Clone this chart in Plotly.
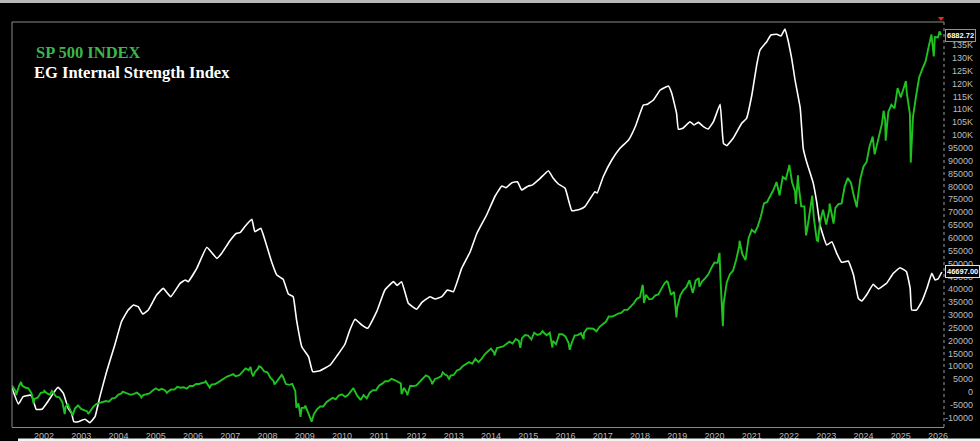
import pandas as pd
import plotly.graph_objects as go

# ---------------- data ----------------
# EG Internal Strength Index (decimal year, value)
eg_year = [
    2001.14, 2001.31, 2001.44, 2001.62, 2001.67, 2001.79, 2001.94, 2002.07, 2002.16, 2002.30,
    2002.38, 2002.52, 2002.65, 2002.74, 2002.80, 2002.92, 2003.10, 2003.23, 2003.37, 2003.50,
    2003.68, 2003.90, 2004.08, 2004.26, 2004.40, 2004.53, 2004.65, 2004.80, 2005.02, 2005.20,
    2005.40, 2005.65, 2005.79, 2005.87, 2006.10, 2006.37, 2006.64, 2006.77, 2006.99, 2007.17,
    2007.26, 2007.40, 2007.58, 2007.66, 2007.82, 2007.93, 2008.11, 2008.25, 2008.42, 2008.56,
    2008.69, 2008.78, 2008.92, 2009.10, 2009.21, 2009.41, 2009.68, 2009.86, 2010.08, 2010.21,
    2010.35, 2010.53, 2010.69, 2010.93, 2011.15, 2011.38, 2011.48, 2011.60, 2011.78, 2012.00,
    2012.14, 2012.36, 2012.50, 2012.68, 2012.83, 2012.99, 2013.21, 2013.44, 2013.62, 2013.88,
    2014.11, 2014.29, 2014.40, 2014.56, 2014.71, 2014.82, 2015.00, 2015.10, 2015.32, 2015.54,
    2015.67, 2015.81, 2015.99, 2016.17, 2016.39, 2016.52, 2016.79, 2016.85, 2017.01, 2017.24,
    2017.46, 2017.69, 2017.87, 2018.09, 2018.20, 2018.36, 2018.54, 2018.76, 2018.85, 2018.98,
    2019.03, 2019.15, 2019.34, 2019.45, 2019.57, 2019.70, 2019.83, 2019.97, 2020.15, 2020.24,
    2020.33, 2020.50, 2020.73, 2020.86, 2021.00, 2021.13, 2021.22, 2021.40, 2021.51, 2021.67,
    2021.78, 2021.89, 2021.98, 2022.07, 2022.16, 2022.30, 2022.38, 2022.47, 2022.65, 2022.74,
    2022.83, 2023.01, 2023.15, 2023.28, 2023.41, 2023.59, 2023.73, 2023.86, 2023.95, 2024.08,
    2024.26, 2024.40, 2024.53, 2024.62, 2024.80, 2024.98, 2025.15, 2025.25, 2025.29, 2025.42,
    2025.56, 2025.70, 2025.83, 2025.92, 2026.00, 2026.10,
]
eg_value = [
    1556, -4670, -1800, -1200, -1500, -6740, -6740, -4400, -2450, 600,
    1830, -510, -6350, -8290, -11550, -11550, -10630, -11940, -9600, -1800,
    7900, 18290, 27350, 31900, 33850, 33200, 30350, 31900, 37740, 40330,
    37080, 42280, 43580, 42930, 48120, 56300, 52000, 53970, 58870, 61750,
    62000, 64500, 67180, 62380, 63670, 59140, 50700, 45520, 43840, 38130,
    37080, 28020, 17630, 13740, 7900, 8290, 10500, 14010, 18680, 24120,
    28290, 26070, 24790, 31250, 39690, 42930, 41500, 42930, 34510, 32180,
    34770, 37080, 36190, 37080, 39690, 39030, 48120, 54590, 61750, 68870,
    76260, 80150, 79500, 81440, 81830, 78600, 80150, 80500, 83150, 86110,
    83150, 80930, 79260, 70540, 71090, 72100, 77940, 77400, 83770, 90270,
    94820, 98050, 103230, 111680, 112000, 113620, 117510, 119070, 116220, 108440,
    102220, 102600, 105170, 103900, 104920, 103230, 102330, 105170, 111940, 96770,
    95840, 98710, 104550, 106490, 115560, 127230, 133070, 136310, 138910, 139180,
    138500, 141240, 136310, 129840, 121400, 110390, 94820, 89610, 81200, 74050,
    64980, 57200, 58480, 53970, 50470, 50970, 45520, 36460, 35410, 37740,
    41910, 40080, 41370, 42300, 46190, 48370, 46810, 40350, 31900, 31900,
    35140, 40350, 46190, 43580, 44000, 46697,
]

# SP 500 INDEX: monthly closes starting Feb 2001
sp_first_month = "2001-02"
sp_monthly_close = [
    1240, 1160, 1249, 1256, 1224, 1211, 1134, 1041, 1060, 1139, 1148,
    1130, 1107, 1147, 1077, 1067, 990, 912, 916, 815, 886, 936, 880,
    856, 841, 848, 917, 964, 975, 990, 1008, 996, 1051, 1058, 1112,
    1131, 1145, 1126, 1107, 1121, 1141, 1102, 1104, 1115, 1130, 1174, 1212,
    1181, 1204, 1181, 1157, 1192, 1191, 1234, 1220, 1229, 1207, 1249, 1248,
    1280, 1281, 1295, 1311, 1270, 1270, 1277, 1304, 1336, 1378, 1401, 1418,
    1438, 1407, 1421, 1482, 1531, 1503, 1455, 1474, 1527, 1549, 1481, 1468,
    1379, 1331, 1323, 1386, 1400, 1280, 1267, 1283, 1165, 969, 896, 903,
    826, 735, 798, 873, 919, 919, 987, 1021, 1057, 1036, 1096, 1115,
    1074, 1104, 1169, 1187, 1089, 1031, 1102, 1049, 1141, 1183, 1181, 1258,
    1286, 1327, 1326, 1364, 1345, 1321, 1292, 1219, 1131, 1253, 1247, 1258,
    1312, 1366, 1408, 1398, 1310, 1362, 1379, 1407, 1441, 1412, 1416, 1426,
    1498, 1515, 1569, 1598, 1631, 1606, 1686, 1633, 1682, 1757, 1806, 1848,
    1783, 1859, 1872, 1884, 1924, 1960, 1931, 2003, 1972, 2018, 2068, 2059,
    1995, 2104, 2068, 2086, 2107, 2063, 2104, 1972, 1920, 2079, 2080, 2044,
    1940, 1932, 2060, 2065, 2097, 2099, 2174, 2171, 2168, 2126, 2199, 2239,
    2279, 2364, 2363, 2384, 2412, 2423, 2470, 2472, 2519, 2575, 2648, 2674,
    2824, 2714, 2641, 2648, 2705, 2718, 2816, 2902, 2914, 2712, 2760, 2507,
    2704, 2784, 2834, 2946, 2752, 2942, 2980, 2926, 2977, 3038, 3141, 3231,
    3226, 2954, 2585, 2912, 3044, 3100, 3271, 3500, 3363, 3270, 3622, 3756,
    3714, 3811, 3973, 4181, 4204, 4298, 4395, 4523, 4308, 4605, 4567, 4766,
    4516, 4374, 4530, 4132, 4132, 3785, 4130, 3955, 3586, 3872, 4080, 3840,
    4077, 3970, 4109, 4169, 4180, 4450, 4589, 4508, 4288, 4194, 4568, 4770,
    4846, 5096, 5254, 5036, 5278, 5460, 5522, 5648, 5762, 5705, 6032, 5882,
    6041, 5955, 5612, 5569, 5912, 6205, 6339, 6460, 6688, 6840, 6849, 6845,
]
# SP 500 INDEX: intra-month swing points visible in the picture
sp_swing_dates = [
    "2001-02-21", "2001-04-04", "2001-05-21", "2001-09-21", "2002-01-04", "2002-03-19",
    "2002-07-23", "2002-08-22", "2002-10-09", "2002-11-27", "2003-03-11", "2004-02-11",
    "2004-08-12", "2005-04-20", "2006-05-05", "2006-06-13", "2007-02-27", "2007-07-19",
    "2007-08-15", "2007-10-09", "2008-03-10", "2008-05-19", "2008-10-10", "2008-11-20",
    "2009-01-06", "2009-03-09", "2010-04-23", "2010-07-02", "2011-04-29", "2011-08-08",
    "2011-10-03", "2012-04-02", "2012-06-01", "2012-09-14", "2012-11-15", "2014-02-03",
    "2014-10-15", "2015-05-21", "2015-08-25", "2016-02-11", "2016-06-27", "2018-01-26",
    "2018-02-08", "2018-09-20", "2018-12-24", "2019-06-03", "2019-08-05", "2020-02-19",
    "2020-03-23", "2020-09-02", "2022-01-03", "2022-03-08", "2022-03-29", "2022-06-16",
    "2022-08-16", "2022-10-12", "2023-02-02", "2023-03-13", "2023-07-31", "2023-10-27",
    "2024-04-19", "2024-07-16", "2024-08-05", "2025-02-19", "2025-04-08", "2025-10-28",
    "2025-11-20", "2026-01-15", "2026-01-30",
]
sp_swing_values = [
    1255, 1103, 1312, 966, 1173, 1170,
    798, 962, 777, 938, 800, 1157,
    1064, 1138, 1325, 1223, 1399, 1553,
    1406, 1565, 1273, 1427, 899, 752,
    935, 677, 1217, 1022, 1364, 1119,
    1099, 1419, 1278, 1466, 1353, 1741,
    1862, 2131, 1867, 1829, 2001, 2873,
    2581, 2931, 2351, 2744, 2844, 3386,
    2210, 3580, 4797, 4171, 4632, 3667,
    4305, 3577, 4179, 3856, 4589, 4117,
    4967, 5667, 5186, 6144, 4835, 6891,
    6538, 6940, 6882.72,
]

year_ticks = list(range(2002, 2027))
y_tick_values = list(range(-10000, 140001, 5000))
y_tick_labels = [f"{v // 1000}K" if v >= 100000 else str(v) for v in y_tick_values]

sp_last_label = "6882.72"
eg_last_label = "46697.00"

# ---------------- build series ----------------
def decimal_year_to_date(y):
    base = int(y)
    return pd.Timestamp(f"{base}-01-01") + pd.Timedelta(days=(y - base) * 365.25)

eg_dates = [decimal_year_to_date(y) for y in eg_year]

months = pd.period_range(sp_first_month, periods=len(sp_monthly_close), freq="M")
sp_df = pd.concat([
    pd.DataFrame({"date": [m.to_timestamp(how="end").normalize() for m in months],
                  "value": sp_monthly_close}),
    pd.DataFrame({"date": pd.to_datetime(sp_swing_dates), "value": sp_swing_values}),
]).sort_values("date")

# ---------------- figure ----------------
W, H = 980, 441
ML, MR, MT, MB = 12, 4, 22, 14
PW, PH = W - ML - MR, H - MT - MB      # paper area (964 x 405)
PLOT_RIGHT = 944                        # right edge of the drawing area (px)
LABEL_RIGHT = 973                       # right-aligned value-axis labels (px)


def px_x(px):
    return (px - ML) / PW


def px_y(py):
    return 1 - (py - MT) / PH


fig = go.Figure()
fig.add_trace(go.Scatter(
    x=sp_df["date"], y=sp_df["value"], yaxis="y2", mode="lines",
    line=dict(color="#1fc21f", width=1.9), name="SP 500 INDEX", showlegend=False,
))
fig.add_trace(go.Scatter(
    x=eg_dates, y=eg_value, mode="lines",
    line=dict(color="#ffffff", width=1.6, shape="spline", smoothing=0.3),
    name="EG Internal Strength Index", showlegend=False,
))

tick_font = dict(family="Liberation Sans, Arial, sans-serif", size=9, color="#bcbcbc")

fig.update_layout(
    width=W, height=H,
    margin=dict(l=ML, r=MR, t=MT, b=MB, pad=0),
    paper_bgcolor="#000000", plot_bgcolor="#000000",
    xaxis=dict(
        type="date", range=["2001-02-21", "2026-02-28"], domain=[0, px_x(PLOT_RIGHT)],
        tickvals=[f"{y}-01-01" for y in year_ticks], ticktext=[str(y) for y in year_ticks],
        tickfont=tick_font, showgrid=False, zeroline=False, ticks="",
        showline=True, linecolor="#8a8a8a", linewidth=1, automargin=False,
    ),
    yaxis=dict(
        side="left", anchor="free", position=px_x(LABEL_RIGHT), range=[-13620, 143970],
        tickvals=y_tick_values, ticktext=y_tick_labels, tickfont=tick_font,
        showgrid=False, zeroline=False, ticks="", showline=False, automargin=False,
    ),
    yaxis2=dict(
        overlaying="y", side="right", range=[590.6, 7092.0], visible=False,
        showgrid=False, zeroline=False,
    ),
    hovermode=False,
)

# frame lines
fig.add_shape(type="line", xref="paper", yref="paper", x0=0, x1=0, y0=0, y1=1,
              line=dict(color="#8a8a8a", width=1))
fig.add_shape(type="line", xref="paper", yref="paper", x0=0, x1=px_x(PLOT_RIGHT), y0=1, y1=1,
              line=dict(color="#8a8a8a", width=1))
fig.add_shape(type="line", xref="paper", yref="paper",
              x0=px_x(PLOT_RIGHT), x1=px_x(PLOT_RIGHT), y0=0, y1=1,
              line=dict(color="#9a9a9a", width=1, dash="dot"))
# top light band of the screenshot
fig.add_shape(type="rect", xref="paper", yref="paper",
              x0=px_x(0), x1=px_x(W), y0=px_y(3), y1=px_y(0),
              line=dict(width=0), fillcolor="#b8b8b8", layer="above")
# bottom light strip
fig.add_shape(type="rect", xref="paper", yref="paper",
              x0=px_x(18), x1=px_x(W), y0=px_y(H), y1=px_y(438.5),
              line=dict(width=0), fillcolor="#f2f2f2", layer="above")
# red marker top right
fig.add_shape(type="path", xref="paper", yref="paper",
              path=f"M {px_x(938)},{px_y(17)} L {px_x(944)},{px_y(17)} L {px_x(941)},{px_y(21)} Z",
              fillcolor="#ff2020", line=dict(color="#ff2020", width=0))

# legend texts
fig.add_annotation(xref="paper", yref="paper", x=px_x(34), y=px_y(52),
                   xanchor="left", yanchor="middle", showarrow=False,
                   text="<b>SP 500 INDEX</b>",
                   font=dict(family="Liberation Serif, serif", size=16.5, color="#3cb54a"))
fig.add_annotation(xref="paper", yref="paper", x=px_x(32), y=px_y(72),
                   xanchor="left", yanchor="middle", showarrow=False,
                   text="<b>EG Internal Strength Index</b>",
                   font=dict(family="Liberation Serif, serif", size=16.5, color="#ffffff"))

# last value labels
box_font = dict(family="Liberation Sans, Arial, sans-serif", size=7.5, color="#ffffff")
fig.add_annotation(xref="paper", yref="y2", x=px_x(945), y=sp_df["value"].iloc[-1],
                   xanchor="left", yanchor="middle", showarrow=False, text=f"<b>{sp_last_label}</b>",
                   font=box_font, bgcolor="#000000", bordercolor="#7aa85a", borderwidth=1, borderpad=1)
fig.add_annotation(xref="paper", yref="y", x=px_x(945), y=eg_value[-1],
                   xanchor="left", yanchor="middle", showarrow=False, text=f"<b>{eg_last_label}</b>",
                   font=box_font, bgcolor="#000000", bordercolor="#e0e0d0", borderwidth=1, borderpad=1)

fig.write_html(
    "out.html",
    config={"displayModeBar": False, "staticPlot": True},
    post_script="document.body.style.margin='0';document.body.style.overflow='hidden';",
)
